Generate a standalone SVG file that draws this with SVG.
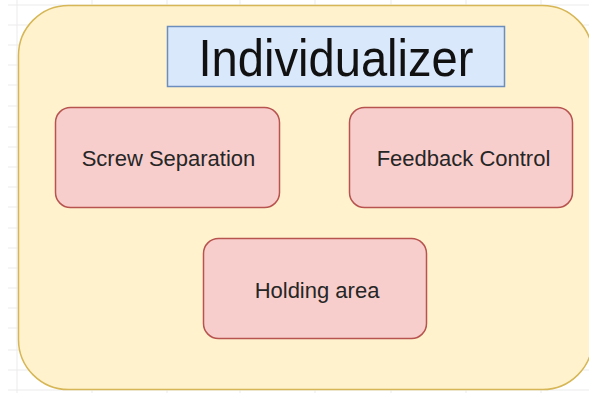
<svg xmlns="http://www.w3.org/2000/svg" width="589" height="393" viewBox="0 0 589 393">
<style>
.grid line{stroke:#ebebeb;stroke-width:1}
.container{fill:#fff2cc;stroke:#d6b656;stroke-width:1.5}
.title{fill:#dae8fc;stroke:#6c8ebf;stroke-width:1.5}
.box{fill:#f8cecc;stroke:#b85450;stroke-width:1.5}
.lbl{font-family:"Liberation Sans",Arial,sans-serif;font-size:22px;fill:#262626;text-anchor:middle}
.ttl{font-family:"Liberation Sans",Arial,sans-serif;font-size:52px;fill:#111;text-anchor:middle}
</style>
<rect width="589" height="393" fill="#ffffff"/>
<g class="grid">
<line x1="8" y1="5" x2="589" y2="5"/><line x1="8" y1="25" x2="589" y2="25"/><line x1="8" y1="45" x2="589" y2="45"/>
<line x1="8" y1="65" x2="589" y2="65"/><line x1="8" y1="85" x2="589" y2="85"/><line x1="8" y1="106" x2="589" y2="106"/>
<line x1="8" y1="127" x2="589" y2="127"/><line x1="8" y1="147" x2="589" y2="147"/><line x1="8" y1="167" x2="589" y2="167"/>
<line x1="8" y1="187" x2="589" y2="187"/><line x1="8" y1="207" x2="589" y2="207"/><line x1="8" y1="228" x2="589" y2="228"/>
<line x1="8" y1="248" x2="589" y2="248"/><line x1="8" y1="268" x2="589" y2="268"/><line x1="8" y1="288" x2="589" y2="288"/>
<line x1="8" y1="308" x2="589" y2="308"/><line x1="8" y1="328" x2="589" y2="328"/><line x1="8" y1="350" x2="589" y2="350"/>
<line x1="8" y1="370" x2="589" y2="370"/><line x1="8" y1="390" x2="589" y2="390"/>
<line x1="17" y1="0" x2="17" y2="393"/><line x1="92" y1="0" x2="92" y2="393"/><line x1="167" y1="0" x2="167" y2="393"/>
<line x1="240" y1="0" x2="240" y2="393"/><line x1="315" y1="0" x2="315" y2="393"/><line x1="391" y1="0" x2="391" y2="393"/>
<line x1="466" y1="0" x2="466" y2="393"/><line x1="541" y1="0" x2="541" y2="393"/>
</g>
<g id="individualizer">
<rect class="container" x="18.5" y="5.5" width="574" height="384" rx="50" ry="50"/>
</g>
<g id="title">
<rect class="title" x="167.5" y="26.5" width="337" height="60"/>
<text class="ttl" x="336" y="76" textLength="275" lengthAdjust="spacingAndGlyphs">Individualizer</text>
</g>
<g id="screw-separation">
<rect class="box" x="55.5" y="107.5" width="224" height="100" rx="15" ry="15"/>
<text class="lbl" x="168.5" y="166">Screw Separation</text>
</g>
<g id="feedback-control">
<rect class="box" x="349.5" y="107.5" width="223" height="100" rx="15" ry="15"/>
<text class="lbl" x="463.5" y="166">Feedback Control</text>
</g>
<g id="holding-area">
<rect class="box" x="203.5" y="238.5" width="223" height="100" rx="15" ry="15"/>
<text class="lbl" x="317" y="298">Holding area</text>
</g>
<g id="connectors"></g>
</svg>
